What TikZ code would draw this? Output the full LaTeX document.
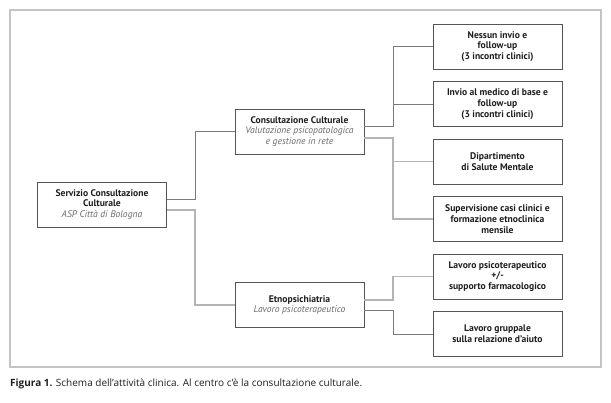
\documentclass[tikz,border=0pt]{standalone}
\usepackage{fontspec}
\setmainfont{PT Sans}
\newfontfamily\capfont{Open Sans}
\definecolor{boxgray}{HTML}{555555}
\definecolor{txt}{HTML}{1E1E1E}
\definecolor{subgray}{HTML}{6A6A6A}
\definecolor{linedark}{HTML}{7A7A7A}
\definecolor{linelight}{HTML}{B4B4B4}
\definecolor{framegray}{HTML}{C4C4C4}
\newcommand\subtxt[1]{{\mdseries\itshape\color{subgray}#1}}
\begin{document}
\begin{tikzpicture}[x=1pt,y=-1pt,
  box/.style={draw=boxgray,line width=0.9pt,minimum width=129pt,minimum height=45pt,inner sep=0pt,align=center,font=\fontsize{9.6}{10.8}\selectfont\bfseries,text=txt},
  darkline/.style={draw=linedark,line width=0.9pt},
  lightline/.style={draw=linelight,line width=1.3pt}]
\useasboundingbox (0,0) rectangle (611,402);
\draw[framegray,line width=1.1pt] (10,10) rectangle (601,367);
% boxes
\node[box] (serv) at (102,204.5) {Servizio Consultazione\\Culturale\\\subtxt{ASP Città di Bologna}};
\node[box] (cons) at (299.5,131.5) {Consultazione Culturale\\\subtxt{Valutazione psicopatologica}\\\subtxt{e gestione in rete}};
\node[box] (etno) at (299.5,305) {Etnopsichiatria\\\subtxt{Lavoro psicoterapeutico}};
\node[box] (r1) at (497.5,46.5) {Nessun invio e\\follow-up\\(3 incontri clinici)};
\node[box] (r2) at (497.5,104) {Invio al medico di base e\\follow-up\\(3 incontri clinici)};
\node[box] (r3) at (497.5,161.5) {Dipartimento\\di Salute Mentale};
\node[box] (r4) at (497.5,219) {Supervisione casi clinici e\\formazione etnoclinica\\mensile};
\node[box] (r5) at (497.5,276.5) {Lavoro psicoterapeutico\\+/-\\supporto farmacologico};
\node[box] (r6) at (497.5,334) {Lavoro gruppale\\sulla relazione d’aiuto};
% connectors
\coordinate (lx) at (195,0);
\coordinate (rx) at (393,0);
\draw[darkline] ([yshift=5.5pt]serv.east) -| (lx |- cons.west) -- (cons.west);
\draw[lightline] ([yshift=-5.5pt]serv.east) -| (lx |- etno.west) -- (etno.west);
\draw[darkline] ([yshift=5.5pt]cons.east) -| (rx |- r1.west) -- (r1.west);
\draw[darkline] (rx |- r2.west) -- (r2.west);
\draw[lightline] ([yshift=-6.5pt]cons.east) -| (rx |- r4.west) -- (r4.west);
\draw[lightline] (rx |- r3.west) -- (r3.west);
\draw[lightline] ([yshift=5pt]etno.east) -| (rx |- r5.west) -- (r5.west);
\draw[darkline] ([yshift=-5pt]etno.east) -| (rx |- r6.west) -- (r6.west);
% caption
\node[anchor=base west,inner sep=0pt,font=\capfont\fontsize{10}{12}\selectfont,text=txt] (cap) at (10,386) {\textbf{Figura 1.} Schema dell’attività clinica. Al centro c’è la consultazione culturale.};
\end{tikzpicture}
\end{document}
